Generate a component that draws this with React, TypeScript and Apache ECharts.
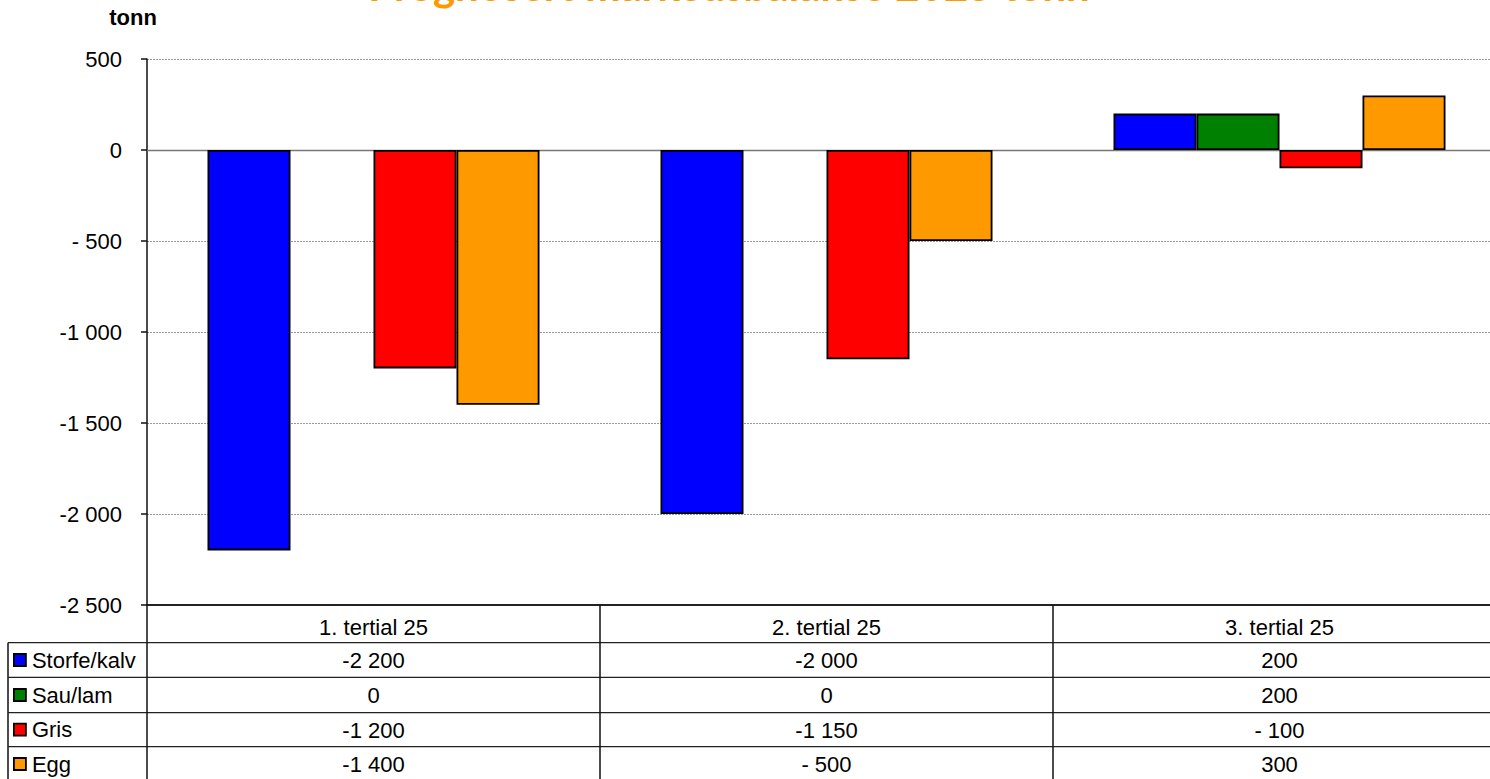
import React, { useEffect, useRef } from "react";
import * as echarts from "echarts";

const categories = ["1. tertial 25", "2. tertial 25", "3. tertial 25"];
const seriesNames = ["Storfe/kalv", "Sau/lam", "Gris", "Egg"];
const storfe = [-2200, -2000, 200];
const sau = [0, 0, 200];
const gris = [-1200, -1150, -100];
const egg = [-1400, -500, 300];
const seriesValues = [storfe, sau, gris, egg];
const colors = ["#0000FF", "#008000", "#FF0000", "#FF9900"];
const titleText = "Prognosert markedsbalanse 2025 tonn";
const unitText = "tonn";

const FONT = "'Liberation Sans', Arial, sans-serif";
const FS = 22;

function fmt(v: number): string {
  if (v === 0) return "0";
  const a = Math.abs(v);
  let s: string;
  if (a >= 1000) {
    const r = String(a % 1000).padStart(3, "0");
    s = Math.floor(a / 1000) + " " + r;
  } else s = String(a);
  if (v < 0) return a < 1000 ? "- " + s : "-" + s;
  return s;
}

export default function App() {
  const ref = useRef<HTMLDivElement>(null);
  useEffect(() => {
    if (!ref.current) return;
    const chart = echarts.init(ref.current, null, { renderer: "svg" });
    const gridTop = 59;
    const gridBottomY = 605;
    const rowLines = [642.7, 677.3, 712.7, 746.7];
    const rowCenters = [660, 695, 729.7, 764];
    const headerCenter = 626.7;

    const xAxes: any[] = [
      {
        type: "category",
        data: categories,
        position: "bottom",
        axisLine: { show: true, onZero: false, lineStyle: { color: "#222", width: 2 } },
        axisTick: { show: true, alignWithLabel: false, length: 176, lineStyle: { color: "#111", width: 1.5 } },
        axisLabel: { fontSize: FS, color: "#000", fontFamily: FONT, margin: 11 },
        splitLine: { show: false },
      },
    ];
    seriesValues.forEach((vals, i) => {
      xAxes.push({
        type: "category",
        data: vals.map(fmt),
        position: "bottom",
        offset: rowCenters[i] - headerCenter,
        axisLine: { show: false },
        axisTick: { show: false },
        axisLabel: { fontSize: FS, color: "#000", fontFamily: FONT, margin: 11 },
        splitLine: { show: false },
      });
    });

    const graphics: any[] = [
      {
        type: "text",
        x: 729,
        y: 6,
        style: {
          text: titleText,
          fill: "#FF9900",
          font: "bold 42px Lato, 'Open Sans', sans-serif",
          textAlign: "center",
          textVerticalAlign: "bottom",
        },
      },
      {
        type: "text",
        x: 133,
        y: 17,
        style: {
          text: unitText,
          fill: "#000",
          font: "bold " + FS + "px " + FONT,
          textAlign: "center",
          textVerticalAlign: "middle",
        },
      },
      {
        type: "line",
        shape: { x1: 8, y1: rowLines[0], x2: 8, y2: 779 },
        style: { stroke: "#111", lineWidth: 1.5 },
      },
    ];
    rowLines.forEach((y) => {
      graphics.push({
        type: "line",
        shape: { x1: 8, y1: y, x2: 1520, y2: y },
        style: { stroke: "#222", lineWidth: 1.3 },
      });
    });

    const legends = seriesNames.map((name, i) => ({
      data: [name],
      orient: "horizontal",
      left: 13,
      top: rowCenters[i] - 11,
      itemWidth: 12,
      itemHeight: 12,
      icon: "rect",
      selectedMode: false,
      padding: 0,
      itemStyle: { borderColor: "#000", borderWidth: 1.8 },
      textStyle: { fontSize: FS, color: "#000", fontFamily: FONT, padding: [0, 0, 0, 1] },
    }));

    chart.setOption({
      animation: false,
      backgroundColor: "#fff",
      textStyle: { fontFamily: FONT },
      grid: { left: 147, top: gridTop, width: 1359, height: gridBottomY - gridTop, containLabel: false },
      legend: legends,
      xAxis: xAxes,
      yAxis: {
        type: "value",
        min: -2500,
        max: 500,
        interval: 500,
        axisLine: { show: true, lineStyle: { color: "#111", width: 1.5 } },
        axisTick: { show: true, length: 6, lineStyle: { color: "#111", width: 1.5 } },
        axisLabel: { fontSize: FS, color: "#000", fontFamily: FONT, margin: 25, formatter: (v: number) => fmt(v) },
        splitLine: { show: true, lineStyle: { color: "#999", width: 1, type: [2, 1] } },
      },
      series: seriesNames.map((name, i) => ({
        name,
        type: "bar",
        xAxisIndex: 0,
        barWidth: 83,
        barGap: "0%",
        itemStyle: { color: colors[i], borderColor: "#000", borderWidth: 1.8 },
        data: seriesValues[i].map((v) =>
          v === 0 ? { value: v, itemStyle: { borderWidth: 0 } } : v
        ),
        markLine:
          i === 0
            ? {
                silent: true,
                symbol: "none",
                label: { show: false },
                lineStyle: { color: "#777", width: 1.3, type: "solid" },
                data: [{ yAxis: 0 }],
                z: 1,
              }
            : undefined,
      })),
      graphic: graphics,
    });
    return () => chart.dispose();
  }, []);
  return (
    <div style={{ position: "fixed", left: 0, top: 0, width: 1490, height: 779, overflow: "hidden" }}>
      <div ref={ref} style={{ width: 1520, height: 779 }} />
    </div>
  );
}
